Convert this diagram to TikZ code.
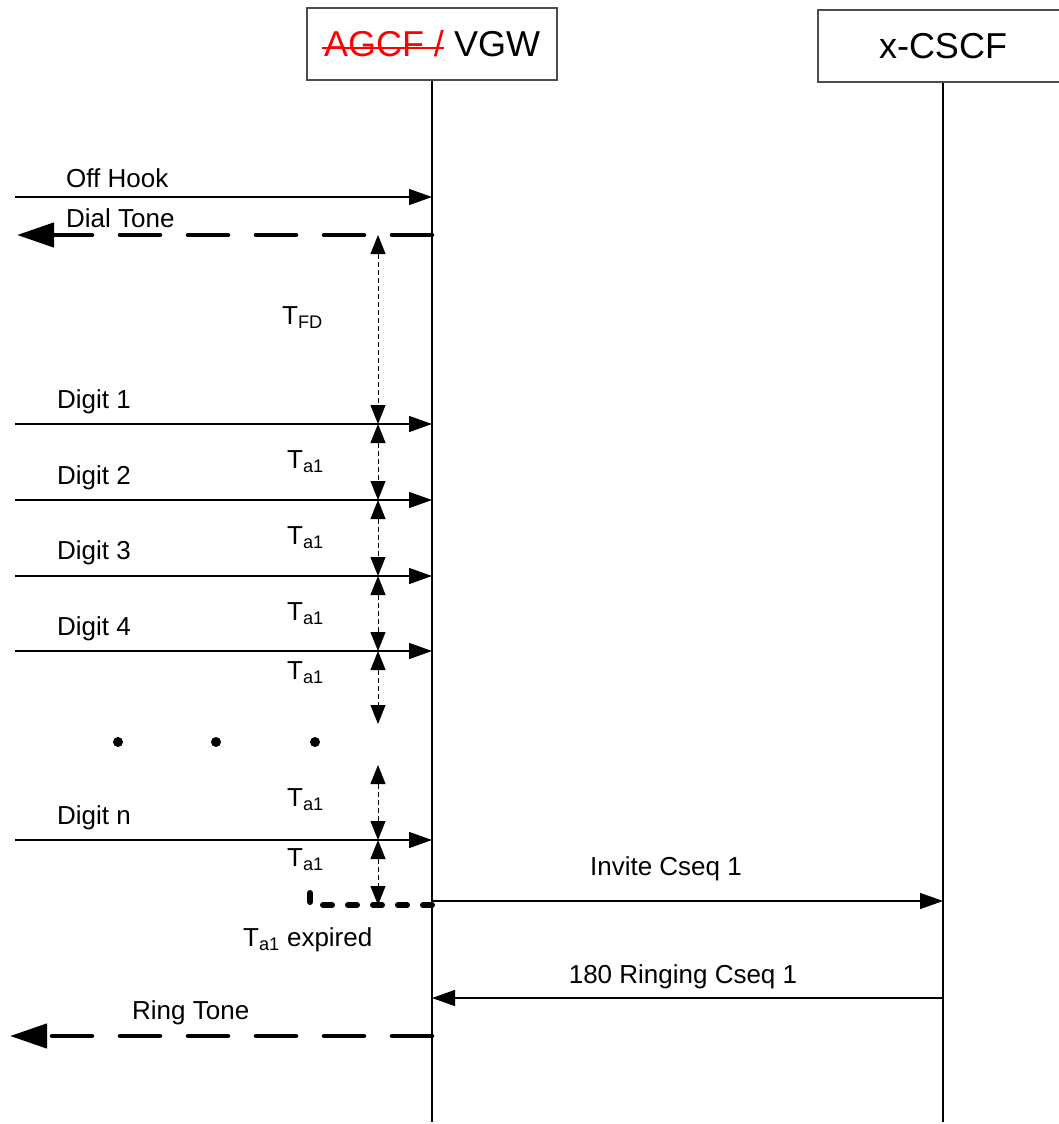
\documentclass[tikz,border=0pt]{standalone}
\usepackage{fontspec}
\setmainfont{Liberation Sans}
\usepackage{tikz}
\usetikzlibrary{arrows.meta}
\tikzset{
  >={Triangle[length=23pt,width=16pt]},
  life/.style={line width=2.8pt},
  head/.style={draw=black!70,line width=1.1pt,fill=white,minimum width=250pt,minimum height=72pt,inner sep=0pt,font=\fontsize{36}{40}\selectfont},
  msg/.style={line width=1.4pt,->},
  tone/.style={line width=4.5pt,line cap=round,dash pattern=on 40pt off 28pt,-{Triangle[length=37pt,width=24pt]}},
  tmr/.style={line width=1pt,dash pattern=on 5pt off 3pt,{Triangle[length=19pt,width=15pt]}-{Triangle[length=19pt,width=15pt]}},
  lbl/.style={inner sep=0pt,font=\fontsize{26}{29}\selectfont},
}
\newcommand{\tsub}[2]{#1\textsubscript{#2}}
\newsavebox{\strikebox}
\newcommand{\strikeout}[1]{\sbox{\strikebox}{#1}\rlap{\kern-2pt\rule[0.22em]{\dimexpr\wd\strikebox+2pt\relax}{1.8pt}}\usebox{\strikebox}}

\begin{document}
\begin{tikzpicture}[x=1pt,y=-1pt]
\useasboundingbox (0,0) rectangle (1058,1124);

% ================= HEADS AND LIFELINES =================
\node[head] (vgw) at (432,44) {\textcolor{red}{\strikeout{AGCF /}} VGW};
\node[head] (cscf) at (943,46) {x-CSCF};
\coordinate (vgwEnd) at (432,1122);
\coordinate (cscfEnd) at (943,1122);
\draw[life] (vgw.south) -- (vgwEnd);
\draw[life] (cscf.south) -- (cscfEnd);

% ================= OFF HOOK / DIAL TONE =================
\coordinate (offL) at (15,197); \coordinate (offR) at (432,197);
\draw[msg] (offL) -- (offR);
\node[lbl,anchor=west] (offHook) at (66,178) {Off Hook};
\coordinate (dialR) at (432,235); \coordinate (dialL) at (17,235);
\draw[tone] (dialR) -- (dialL);
\node[lbl,anchor=west] (dialTone) at (66,218) {Dial Tone};

% ================= DIGITS =================
\coordinate (d1L) at (15,424); \coordinate (d1R) at (432,424);
\coordinate (d2L) at (15,500); \coordinate (d2R) at (432,500);
\coordinate (d3L) at (15,576); \coordinate (d3R) at (432,576);
\coordinate (d4L) at (15,651); \coordinate (d4R) at (432,651);
\coordinate (dnL) at (15,840); \coordinate (dnR) at (432,840);
\draw[msg] (d1L) -- (d1R); \node[lbl,anchor=west] (dig1) at (57,402) {Digit 1};
\draw[msg] (d2L) -- (d2R); \node[lbl,anchor=west] (dig2) at (57,478) {Digit 2};
\draw[msg] (d3L) -- (d3R); \node[lbl,anchor=west] (dig3) at (57,553) {Digit 3};
\draw[msg] (d4L) -- (d4R); \node[lbl,anchor=west] (dig4) at (57,629) {Digit 4};
\draw[msg] (dnL) -- (dnR); \node[lbl,anchor=west] (dign) at (57,818) {Digit n};

% ================= TIMERS =================
\coordinate (t0) at (378,235); \coordinate (t1) at (378,424);
\coordinate (t2) at (378,500); \coordinate (t3) at (378,576);
\coordinate (t4) at (378,651); \coordinate (t5) at (378,724);
\coordinate (t6) at (378,765); \coordinate (t7) at (378,840);
\coordinate (t8) at (378,905);
\draw[tmr] (t0) -- (t1); \node[lbl,anchor=west] (tfd) at (282,318) {\tsub{T}{FD}};
\draw[tmr] (t1) -- (t2); \node[lbl,anchor=west] (ta1a) at (287,462) {\tsub{T}{a1}};
\draw[tmr] (t2) -- (t3); \node[lbl,anchor=west] (ta1b) at (287,538) {\tsub{T}{a1}};
\draw[tmr] (t3) -- (t4); \node[lbl,anchor=west] (ta1c) at (287,614) {\tsub{T}{a1}};
\draw[tmr] (t4) -- (t5); \node[lbl,anchor=west] (ta1d) at (287,673) {\tsub{T}{a1}};
\draw[tmr] (t6) -- (t7); \node[lbl,anchor=west] (ta1e) at (287,800) {\tsub{T}{a1}};
\draw[tmr] (t7) -- (t8); \node[lbl,anchor=west] (ta1f) at (287,860) {\tsub{T}{a1}};

% dots for the skipped digits
\fill (118,742) circle (5pt); \fill (216,742) circle (5pt); \fill (315,742) circle (5pt);

% ================= EXPIRY =================
\coordinate (expR) at (432,905); \coordinate (expTop) at (310,889);
\draw[line width=6pt,line cap=round,dash pattern=on 9pt off 16pt] (expR) -| (expTop);
\node[lbl,anchor=west] (expired) at (243,940) {\tsub{T}{a1} expired};

% ================= SIP =================
\coordinate (invL) at (432,901); \coordinate (invR) at (943,901);
\draw[msg] (invL) -- (invR);
\node[lbl] (invite) at (666,869) {Invite Cseq 1};
\coordinate (ringR) at (943,998); \coordinate (ringL) at (432,998);
\draw[msg] (ringR) -- (ringL);
\node[lbl] (ringing) at (683,977) {180 Ringing Cseq 1};

% ================= RING TONE =================
\coordinate (toneR) at (432,1036); \coordinate (toneL) at (10,1036);
\draw[tone] (toneR) -- (toneL);
\node[lbl,anchor=west] (ringTone) at (132,1013) {Ring Tone};

\end{tikzpicture}
\end{document}
